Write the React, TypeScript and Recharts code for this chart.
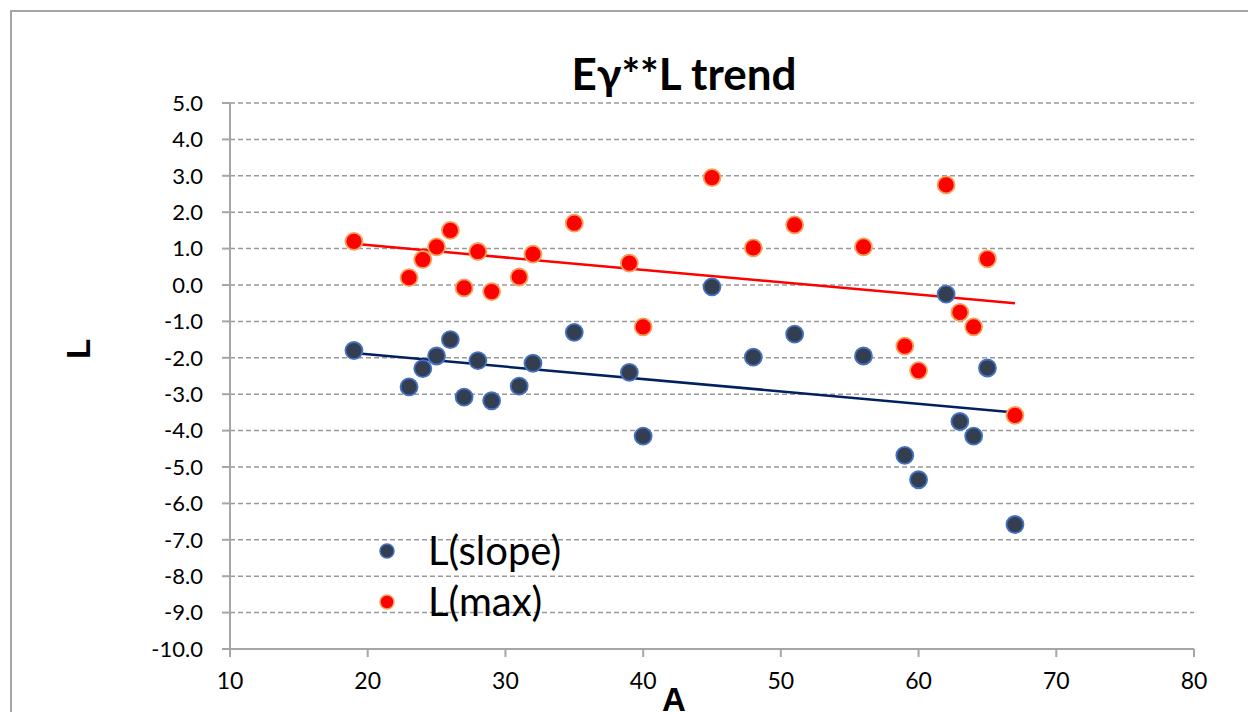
import React from "react"
import {
  ComposedChart,
  Scatter,
  Line,
  XAxis,
  YAxis,
  CartesianGrid,
} from "recharts"

// A values (shared by both series)
const ages = [19, 23, 24, 25, 26, 27, 28, 29, 31, 32, 35, 39, 40, 45, 48, 51, 56, 59, 60, 62, 63, 64, 65, 67]

// L(slope) values
const lSlope = [
  -1.8, -2.8, -2.3, -1.95, -1.5, -3.08, -2.08, -3.18, -2.78, -2.15, -1.3, -2.4,
  -4.15, -0.05, -1.98, -1.35, -1.95, -4.68, -5.35, -0.25, -3.75, -4.15, -2.28, -6.58,
]

// L(max) values
const lMax = [
  1.2, 0.2, 0.7, 1.05, 1.5, -0.08, 0.92, -0.18, 0.22, 0.85, 1.7, 0.6,
  -1.15, 2.95, 1.02, 1.65, 1.05, -1.68, -2.35, 2.75, -0.75, -1.15, 0.72, -3.58,
]

// linear trend end points
const slopeTrendX = [19, 67]
const slopeTrendY = [-1.87, -3.5]
const maxTrendX = [19, 67]
const maxTrendY = [1.13, -0.5]

const xTicks = [10, 20, 30, 40, 50, 60, 70, 80]
const yTicks = [5, 4, 3, 2, 1, 0, -1, -2, -3, -4, -5, -6, -7, -8, -9, -10]

const legendItems = [
  { name: "L(slope)", fill: "#333F50", stroke: "#4472C4" },
  { name: "L(max)", fill: "#FF0000", stroke: "#F5A05A" },
]

const slopeData = ages.map((x, i) => ({ x, y: lSlope[i] }))
const maxData = ages.map((x, i) => ({ x, y: lMax[i] }))
const slopeTrend = slopeTrendX.map((x, i) => ({ x, y: slopeTrendY[i] }))
const maxTrend = maxTrendX.map((x, i) => ({ x, y: maxTrendY[i] }))

const font = "Lato, 'Noto Sans', sans-serif"

const dot = (fill: string, stroke: string) => (props: any) => {
  const { cx, cy } = props
  if (cx == null || cy == null) return <g />
  return <circle cx={cx} cy={cy} r={8.5} fill={fill} stroke={stroke} strokeWidth={1.8} />
}

// legend drawn as plain html so it does not eat plot space
function ChartLegend() {
  return (
    <div style={{ position: "absolute", left: 371, top: 517, fontFamily: font }}>
      {legendItems.map((item) => (
        <div key={item.name} style={{ display: "flex", alignItems: "center", height: 51 }}>
          <svg width={16} height={16}>
            <circle cx={8} cy={8} r={7} fill={item.fill} stroke={item.stroke} strokeWidth={1.5} />
          </svg>
          <span style={{ marginLeft: 33, fontSize: 40, lineHeight: "51px", color: "#000" }}>{item.name}</span>
        </div>
      ))}
    </div>
  )
}

export default function App() {
  return (
    <div style={{ position: "relative", width: 1248, height: 709 }}>
      <div
        style={{
          position: "absolute",
          left: 2,
          top: 2,
          width: 1240,
          height: 700,
          borderTop: "2px solid #A6A6A6",
          borderLeft: "2px solid #A6A6A6",
        }}
      />
      <ComposedChart
        width={1248}
        height={709}
        margin={{ top: 95, right: 62, bottom: 0, left: 0 }}
        style={{ position: "absolute", left: 0, top: 0 }}
      >
        <CartesianGrid vertical={false} stroke="#999" strokeWidth={1.5} strokeDasharray="5 3" />
        <XAxis
          type="number"
          dataKey="x"
          domain={[10, 80]}
          ticks={xTicks}
          height={68}
          tickSize={8}
          tickMargin={16}
          stroke="#A6A6A6"
          strokeWidth={2}
          tick={{ fill: "#000", fontSize: 23, fontFamily: font }}
          allowDuplicatedCategory={false}
        />
        <YAxis
          type="number"
          dataKey="y"
          domain={[-10, 5]}
          ticks={yTicks}
          width={222}
          tickSize={8}
          tickMargin={19}
          interval={0}
          stroke="#A6A6A6"
          strokeWidth={2}
          tickFormatter={(v: number) => v.toFixed(1)}
          tick={{ fill: "#000", fontSize: 22, fontFamily: font }}
        />
        <Line
          data={maxTrend}
          dataKey="y"
          type="linear"
          stroke="#FF0000"
          strokeWidth={2.5}
          dot={false}
          activeDot={false}
          legendType="none"
          isAnimationActive={false}
        />
        <Line
          data={slopeTrend}
          dataKey="y"
          type="linear"
          stroke="#002060"
          strokeWidth={2.5}
          dot={false}
          activeDot={false}
          legendType="none"
          isAnimationActive={false}
        />
        <Scatter name="L(slope)" data={slopeData} shape={dot("#333F50", "#4472C4")} isAnimationActive={false} />
        <Scatter name="L(max)" data={maxData} shape={dot("#FF0000", "#F5A05A")} isAnimationActive={false} />
        <text x={676} y={82} textAnchor="middle" fontFamily={font} fontWeight="bold" fontSize={44} fill="#000">
          Eγ**L trend
        </text>
        <text
          x={82}
          y={341}
          textAnchor="middle"
          transform="rotate(-90, 82, 341)"
          fontFamily="'Liberation Sans', Arial, sans-serif"
          fontWeight="bold"
          fontSize={33}
          fill="#000"
        >
          L
        </text>
        <text
          x={666}
          y={703}
          textAnchor="middle"
          fontFamily="'Liberation Sans', Arial, sans-serif"
          fontWeight="bold"
          fontSize={33}
          fill="#000"
        >
          A
        </text>
      </ComposedChart>
      <ChartLegend />
    </div>
  )
}
